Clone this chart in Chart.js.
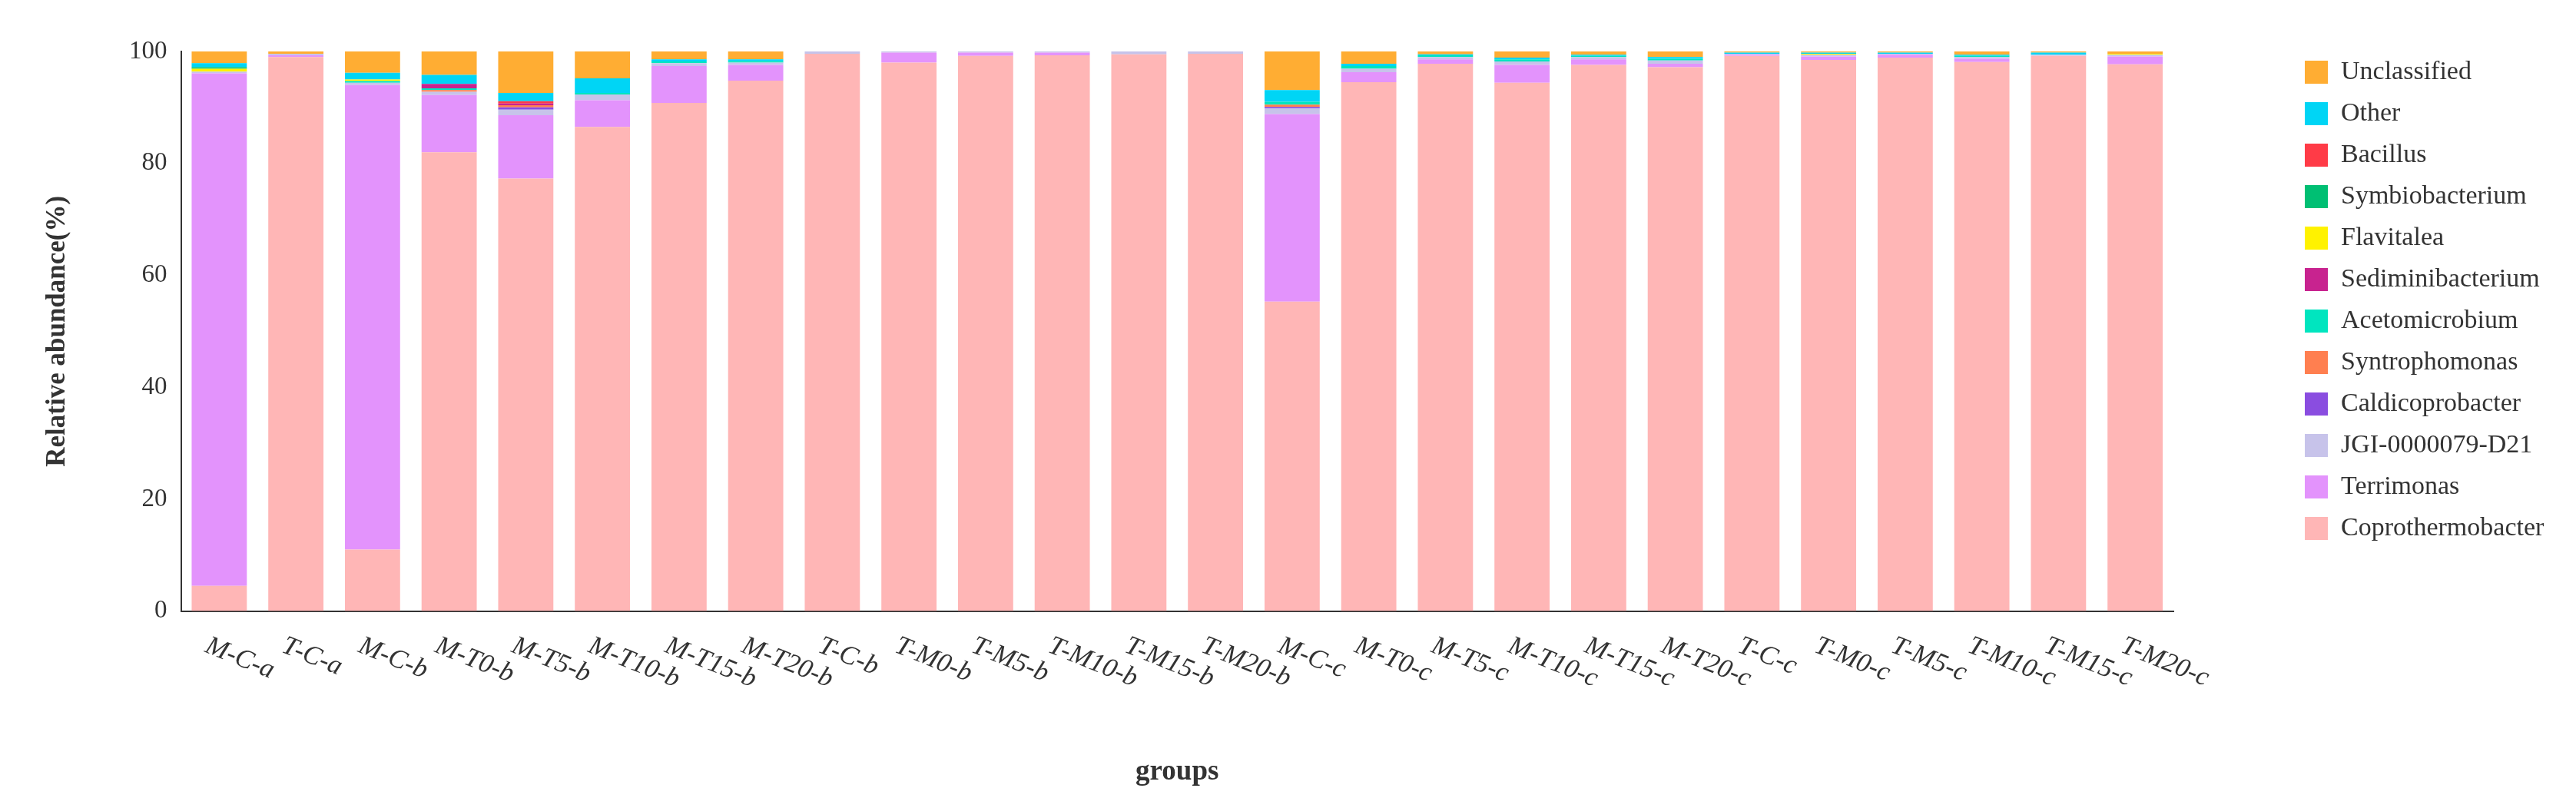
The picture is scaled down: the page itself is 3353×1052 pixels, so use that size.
<!DOCTYPE html>
<html><head><meta charset="utf-8">
<script src="https://cdn.jsdelivr.net/npm/chart.js@4/dist/chart.umd.min.js"></script>
<style>html,body{margin:0;padding:0;background:#fff}#w{width:3353px;height:1052px}</style>
</head><body><div id="w"><canvas id="c"></canvas></div>
<script>
const categories=["M-C-a","T-C-a","M-C-b","M-T0-b","M-T5-b","M-T10-b","M-T15-b","M-T20-b","T-C-b","T-M0-b","T-M5-b","T-M10-b","T-M15-b","T-M20-b","M-C-c","M-T0-c","M-T5-c","M-T10-c","M-T15-c","M-T20-c","T-C-c","T-M0-c","T-M5-c","T-M10-c","T-M15-c","T-M20-c"];
const coprothermobacter=[4.5,99,11,82,77.3,86.5,90.8,94.8,99.6,98,99.2,99.3,99.5,99.6,55.3,94.5,97.8,94.4,97.6,97.2,99.2,98.5,98.9,98.1,99.2,97.7];
const terrimonas=[91.6,0.3,83,10.2,11.3,4.8,6.6,2.8,0,1.8,0.6,0.5,0,0,33.5,1.8,0.8,3.2,1.0,0.6,0.2,0.6,0.5,0.6,0,1.4];
const jgi=[0.3,0.3,0.4,0.6,1.0,1.0,0.5,0.4,0.4,0.2,0.2,0.2,0.5,0.4,1.0,0.6,0.4,0.6,0.4,0.6,0.2,0.3,0.2,0.3,0.2,0.3];
const caldicoprobacter=[0,0,0,0,0.4,0,0,0,0,0,0,0,0,0,0.3,0,0,0,0,0,0,0,0,0,0,0];
const syntrophomonas=[0,0,0,0.3,0.4,0,0,0,0,0,0,0,0,0,0.4,0,0,0,0,0,0,0,0,0,0,0];
const acetomicrobium=[0,0,0.3,0.3,0,0.3,0.3,0.3,0,0,0,0,0,0,0.5,0.5,0.3,0.4,0.2,0.3,0,0,0,0.2,0,0];
const sediminibacterium=[0,0,0,0.8,0.3,0,0,0,0,0,0,0,0,0,0,0,0,0,0,0,0,0,0,0,0,0];
const flavitalea=[0.5,0,0.3,0,0,0,0,0,0,0,0,0,0,0,0,0,0,0,0,0,0,0.2,0,0,0,0.2];
const symbiobacterium=[0.3,0,0,0,0,0,0,0,0,0,0,0,0,0,0,0,0,0,0,0,0,0,0,0,0,0];
const bacillus=[0,0,0,0,0.4,0,0,0,0,0,0,0,0,0,0,0,0,0,0,0,0,0,0,0,0,0];
const other=[0.7,0,1.2,1.6,1.5,2.6,0.4,0.3,0,0,0,0,0,0,2.1,0.4,0.2,0.3,0.2,0.3,0.2,0.2,0.2,0.2,0.4,0];
const unclassified=[2.1,0.4,3.8,4.2,7.4,4.8,1.4,1.4,0,0,0,0,0,0,6.9,2.2,0.5,1.1,0.6,1.0,0.2,0.2,0.2,0.6,0.2,0.4];
const seriesNames=["Coprothermobacter","Terrimonas","JGI-0000079-D21","Caldicoprobacter","Syntrophomonas","Acetomicrobium","Sediminibacterium","Flavitalea","Symbiobacterium","Bacillus","Other","Unclassified"];
const seriesData=[coprothermobacter,terrimonas,jgi,caldicoprobacter,syntrophomonas,acetomicrobium,sediminibacterium,flavitalea,symbiobacterium,bacillus,other,unclassified];
const seriesColors=["#ffb6b6","#e393fc","#c7c3ea","#8a4de0","#ff7f50","#00e5bf","#c8238f","#fff200","#00bf73","#ff3b47","#00d5f5","#ffad33"];
const yTicks=[0,20,40,60,80,100];
const F="'Liberation Serif','Times New Roman',serif";
const labelPlugin={id:'rotLabels',
afterInit(ch){const lg=ch.legend;if(lg){const f=lg.fit;lg.fit=function(){f.call(this);this.width=524;};}},
afterLayout(ch){const lg=ch.legend;if(lg){lg.left=2980;lg.top=57;}},
afterDraw(ch){const s=ch.scales.x,ctx=ch.ctx;ctx.save();ctx.font="italic 35px "+F;ctx.fillStyle="#333";ctx.textBaseline="top";
categories.forEach((l,i)=>{const x=s.getPixelForTick(i);ctx.save();ctx.translate(x-10,ch.chartArea.bottom+28);ctx.rotate(22*Math.PI/180);ctx.fillText(l,0,0);ctx.restore();});ctx.restore();}};
new Chart(document.getElementById('c'),{type:'bar',
data:{labels:categories,datasets:seriesNames.map((n,i)=>({label:n,data:seriesData[i],backgroundColor:seriesColors[i],borderWidth:0,categoryPercentage:0.72,barPercentage:1}))},
options:{responsive:true,maintainAspectRatio:false,animation:false,
layout:{padding:{top:67,left:50,right:0,bottom:20}},
plugins:{tooltip:{enabled:false},legend:{position:'right',align:'start',reverse:true,
labels:{font:{family:F,size:34},color:'#333',boxWidth:30,boxHeight:30,padding:20}}},
scales:{x:{stacked:true,grid:{display:false,drawTicks:true,tickLength:12,tickColor:'#333'},border:{color:'#333',width:2},
ticks:{color:'transparent',font:{size:10}},
title:{display:true,text:'groups',font:{family:F,size:37,weight:'bold'},color:'#333',padding:{top:158}}},
y:{stacked:true,min:0,max:100,afterBuildTicks(a){a.ticks=yTicks.map(v=>({value:v}));},
grid:{display:false,drawTicks:true,tickLength:12,tickColor:'#333'},border:{color:'#333',width:2},
ticks:{font:{family:F,size:33},color:'#333',padding:6},
title:{display:true,text:'Relative abundance(%)',font:{family:F,size:35,weight:'bold'},color:'#333',padding:{bottom:66}}}}},
plugins:[labelPlugin]});
</script></body></html>
